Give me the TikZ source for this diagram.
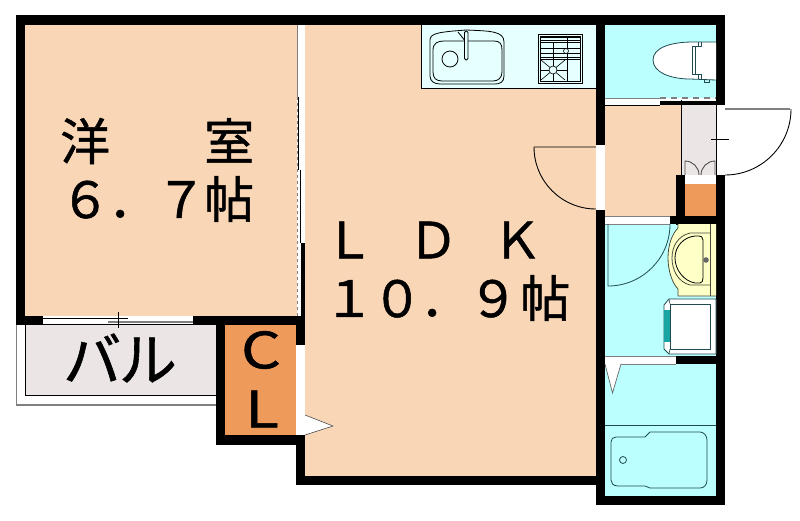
\documentclass[tikz,border=0pt]{standalone}
\usepackage{fontspec}
\usepackage{xcolor}
\newfontfamily\cjk[LetterSpace=-4,FakeBold=1]{Noto Sans CJK JP}
\definecolor{roompeach}{HTML}{F9D6B6}
\definecolor{wetcyan}{HTML}{BBFFFF}
\definecolor{counterpale}{HTML}{E6FFFF}
\definecolor{closetorange}{HTML}{EE9A5A}
\definecolor{entrygrey}{HTML}{EBE5E5}
\definecolor{basinyellow}{HTML}{FFFFC8}
\definecolor{washerteal}{HTML}{1AA5A5}
\definecolor{fixline}{HTML}{1F4A50}

\begin{document}
\begin{tikzpicture}[x=1pt,y=-1pt]
  % Define styles for walls, floors and fixtures
  \tikzset{
    wall/.style={
      fill=black,
      draw=none
    },
    floor/.style={
      draw=none
    },
    fixture/.style={
      draw=fixline,
      line width=0.8pt,
      line join=round
    },
    thinline/.style={
      draw=black,
      line width=0.9pt
    },
    greyline/.style={
      draw=black!50,
      line width=1.2pt
    },
    bigtext/.style={
      inner sep=0pt,
      anchor=center,
      font=\cjk\fontsize{50pt}{50pt}\selectfont
    }
  }
  \useasboundingbox (0,0) rectangle (800,520);

  % Floors
  \fill[floor,roompeach] (25,25) rectangle (297,316);
  \fill[floor,roompeach] (305,25) rectangle (596,476);
  \fill[floor,roompeach] (605,105) rectangle (681,216);
  \fill[floor,wetcyan] (605,25) rectangle (716,98);
  \fill[floor,wetcyan] (605,224) rectangle (716,356);
  \fill[floor,wetcyan] (605,364) rectangle (716,496);
  \fill[floor,counterpale] (421,25) rectangle (596,88);
  \fill[floor,entrygrey] (681,105) rectangle (716,175);
  \fill[floor,closetorange] (685,184) rectangle (716,216);
  \fill[floor,closetorange] (225,325) rectangle (296,435);
  \fill[floor,entrygrey] (25,325) rectangle (216,395);

  % Walls
  \fill[wall] (16,15) rectangle (725,25);
  \fill[wall] (16,15) rectangle (25,325);
  \fill[wall] (16,316) rectangle (43,325);
  \fill[wall] (193,316) rectangle (305,325);
  \fill[wall] (301,243) rectangle (305,316);
  \fill[wall] (296,325) rectangle (305,345);
  \fill[wall] (216,325) rectangle (225,445);
  \fill[wall] (216,435) rectangle (305,445);
  \fill[wall] (296,435) rectangle (305,485);
  \fill[wall] (296,476) rectangle (605,485);
  \fill[wall] (596,25) rectangle (605,145);
  \fill[wall] (596,210) rectangle (605,505);
  \fill[wall] (596,496) rectangle (725,505);
  \fill[wall] (716,25) rectangle (725,105);
  \fill[wall] (716,175) rectangle (725,505);
  \fill[wall] (660,101) rectangle (716,105);
  \fill[wall] (676,175) rectangle (685,225);
  \fill[wall] (670,216) rectangle (716,224);
  \fill[wall] (676,356) rectangle (716,364);

  % Balcony outline
  \draw[greyline] (216,405) -- (16.5,405) -- (16.5,325);
  \draw[thinline] (25,325) -- (25,395) -- (216,395);

  % Lines of the sliding doors and openings
  \draw[greyline] (297.5,25) -- (297.5,97);
  \draw[thinline] (298.5,97) -- (298.5,170);
  \draw[thinline] (300.5,170) -- (300.5,243);
  \draw[greyline,dashed] (297.5,97) -- (297.5,316);
  \draw[greyline,line width=0.8pt] (605,98) -- (660,98);
  \draw[greyline,dash pattern=on 6pt off 5pt] (660,98) -- (716,98);
  \draw[thinline] (43,324) -- (193,324);
  \draw[thinline] (43,318) -- (128,318);
  \draw[greyline] (108,322) -- (193,322);
  \draw[thinline] (118,312) -- (118,328);
  \draw[greyline,line width=0.6pt] (605,216) -- (670,216);
  \draw[greyline,line width=0.6pt] (605,224) -- (670,224);
  \draw[greyline,line width=0.6pt] (605,356) -- (676,356);
  \draw[greyline,line width=0.6pt] (605,364) -- (676,364);
  \draw[thinline,line width=0.7pt] (605,105) -- (660,105);

  % Doors
  \draw[thinline] (596,147) -- (534,147) arc[start angle=180,end angle=90,radius=62];
  \draw[fixture] (608,224) -- (608,286) arc[start angle=90,end angle=0,radius=62];
  \draw[fill=white,draw=black!70,line width=0.6pt] (305,415) -- (333,426) -- (305,435);
  \draw[fill=white,draw=black!60,line width=0.7pt] (605,364) -- (612.5,393) -- (621,364);
  \draw[greyline] (725,109) -- (790,109);
  \draw[thinline] (725,175) arc[start angle=90,end angle=0,radius=66];
  \draw[thinline] (711,139) -- (729,139);

  % Entrance and shoe box
  \draw[thinline] (681,100) -- (681,175);
  \draw[thinline] (716,105) -- (716,175);
  \draw[thinline,draw=black!70] (685,175) -- (685,161) arc[start angle=-90,end angle=0,radius=14];
  \draw[thinline,draw=black!70] (715,175) -- (715,161) arc[start angle=-90,end angle=-180,radius=14];

  % Kitchen counter
  \draw[thinline] (421,25) -- (421,88) -- (596,88);
  \draw[fixture,black] (430,40) .. controls (430,33) and (440,32) .. (466,30) .. controls (490,31) and (504,31) .. (504,42)
    -- (504,76) .. controls (504,82) and (500,84) .. (495,84) -- (440,84) .. controls (434,84) and (430,81) .. (430,76) -- cycle;
  \draw[fixture,black] (433,50) .. controls (433,43) and (438,41) .. (444,41) -- (494,41) .. controls (500,41) and (502,44) .. (502,50)
    -- (502,72) .. controls (502,78) and (498,81) .. (493,81) -- (442,81) .. controls (436,81) and (433,78) .. (433,72) -- cycle;
  \draw[fixture,black,fill=counterpale] (450,59) circle (8);
  \draw[fixture,black] (458,32) -- (466,42);
  \draw[fixture,black,fill=counterpale,rounded corners=1.5pt] (464.5,31) rectangle (468,60);

  \draw[thinline] (538,34) rectangle (582,83);
  \draw[thinline,line width=0.6pt] (540,36) rectangle (580,81);
  \foreach \gy in {37,40,42,48,53,57,59} {
    \draw[thinline,line width=0.6pt] (540,\gy) -- (580,\gy);
  }
  \draw[thinline,line width=0.6pt] (553,42) -- (553,59);
  \draw[thinline,line width=0.6pt] (567,37) -- (567,81);
  \draw[thinline,line width=0.6pt] (541,60) -- (565,80);
  \draw[thinline,line width=0.6pt] (565,60) -- (541,80);
  \draw[thinline,line width=0.6pt] (553,59) -- (553,81);
  \draw[thinline,line width=0.6pt] (540,70) -- (567,70);
  \draw[thinline,line width=0.6pt,fill=counterpale] (553,70) circle (4);
  \draw[thinline,line width=0.6pt,fill=counterpale] (566,51) circle (2.5);

  % Toilet
  \draw[fixture,fill=white] (716,42) -- (693,42) .. controls (670,42) and (653,48) .. (653,60)
    .. controls (653,72) and (670,79) .. (690,79) -- (716,80);
  \draw[fixture,fill=white] (701,42) -- (701,46) -- (692,46) -- (692,74) -- (701,74) -- (701,80);
  \draw[fixture,line width=0.6pt] (695,46) -- (695,74);
  \draw[fixture,line width=0.6pt] (698,42) -- (698,46);
  \draw[fixture,line width=0.6pt] (698,74) -- (698,79);
  \draw[fixture,line width=0.6pt] (704,80) -- (704,82) -- (709,82) -- (709,80);

  % Wash basin
  \fill[basinyellow] (678,224) -- (716,224) -- (716,296) -- (678,296) -- (678,289)
    .. controls (672,283) and (668,270) .. (668,258) .. controls (668,245) and (672,234) .. (678,228) -- cycle;
  \draw[fixture,draw=black!70!basinyellow] (678,224) -- (678,228) .. controls (672,234) and (668,245) .. (668,258)
    .. controls (668,270) and (672,283) .. (678,289) -- (678,296) -- (716,296);
  \draw[fixture,draw=black!70!basinyellow] (710,224) -- (710,296);
  \draw[fixture,draw=black!70!basinyellow] (710,233) -- (690,233) .. controls (678,236) and (672,246) .. (672,258)
    .. controls (672,270) and (678,282) .. (690,285) -- (710,285);
  \draw[fixture,black] (695,236) .. controls (684,237) and (675,246) .. (675,258) .. controls (675,270) and (684,281) .. (695,283)
    -- (700,283) .. controls (702,283) and (703,281) .. (703,278) -- (703,240) .. controls (703,237) and (701,236) .. (699,236) -- cycle;
  \fill[black!60] (706,260) circle (2.8);

  % Washing machine pan
  \draw[fixture,fill=white] (669,299) -- (716,299) -- (716,354) -- (669,354) -- (664,349) -- (664,305) -- cycle;
  \fill[washerteal] (663.5,310) rectangle (669.5,342);
  \draw[fixture] (670,304) rectangle (710,349);
  \draw[fixture,line width=0.6pt] (669,299) -- (670,304);
  \draw[fixture,line width=0.6pt] (669,354) -- (670,349);

  % Bath
  \draw[fixture,line width=0.6pt] (605,425) -- (716,425);
  \draw[fixture] (616,437) -- (645,437) -- (650,432) -- (700,432) .. controls (704,432) and (707,436) .. (707,440)
    -- (707,480) .. controls (707,485) and (704,488) .. (700,488) -- (650,488) -- (645,486) -- (618,486)
    .. controls (613,486) and (611,483) .. (611,480) -- (611,442) .. controls (611,439) and (613,437) .. (616,437) -- cycle;
  \draw[fixture] (623,460) circle (3.5);

  % Room labels
  \node[bigtext,anchor=west] (western) at (60,141) {洋　　室};
  \node[bigtext,anchor=west] (westernsize) at (60,199) {６．７帖};
  \node[bigtext,anchor=west] (ldk) at (324,240) {Ｌ\hspace{34pt}Ｄ\hspace{34pt}Ｋ};
  \node[bigtext,anchor=west] (ldksize) at (324,298) {１０．９\hspace{2pt}帖};
  \node[bigtext,font=\cjk\fontsize{58pt}{58pt}\selectfont] (balcony) at (120,358) {バル};
  \node[bigtext] (closetc) at (261,350) {\scalebox{1.25}[1]{C}};
  \node[bigtext] (closetl) at (262,409) {\scalebox{1.25}[1]{L}};
\end{tikzpicture}
\end{document}
